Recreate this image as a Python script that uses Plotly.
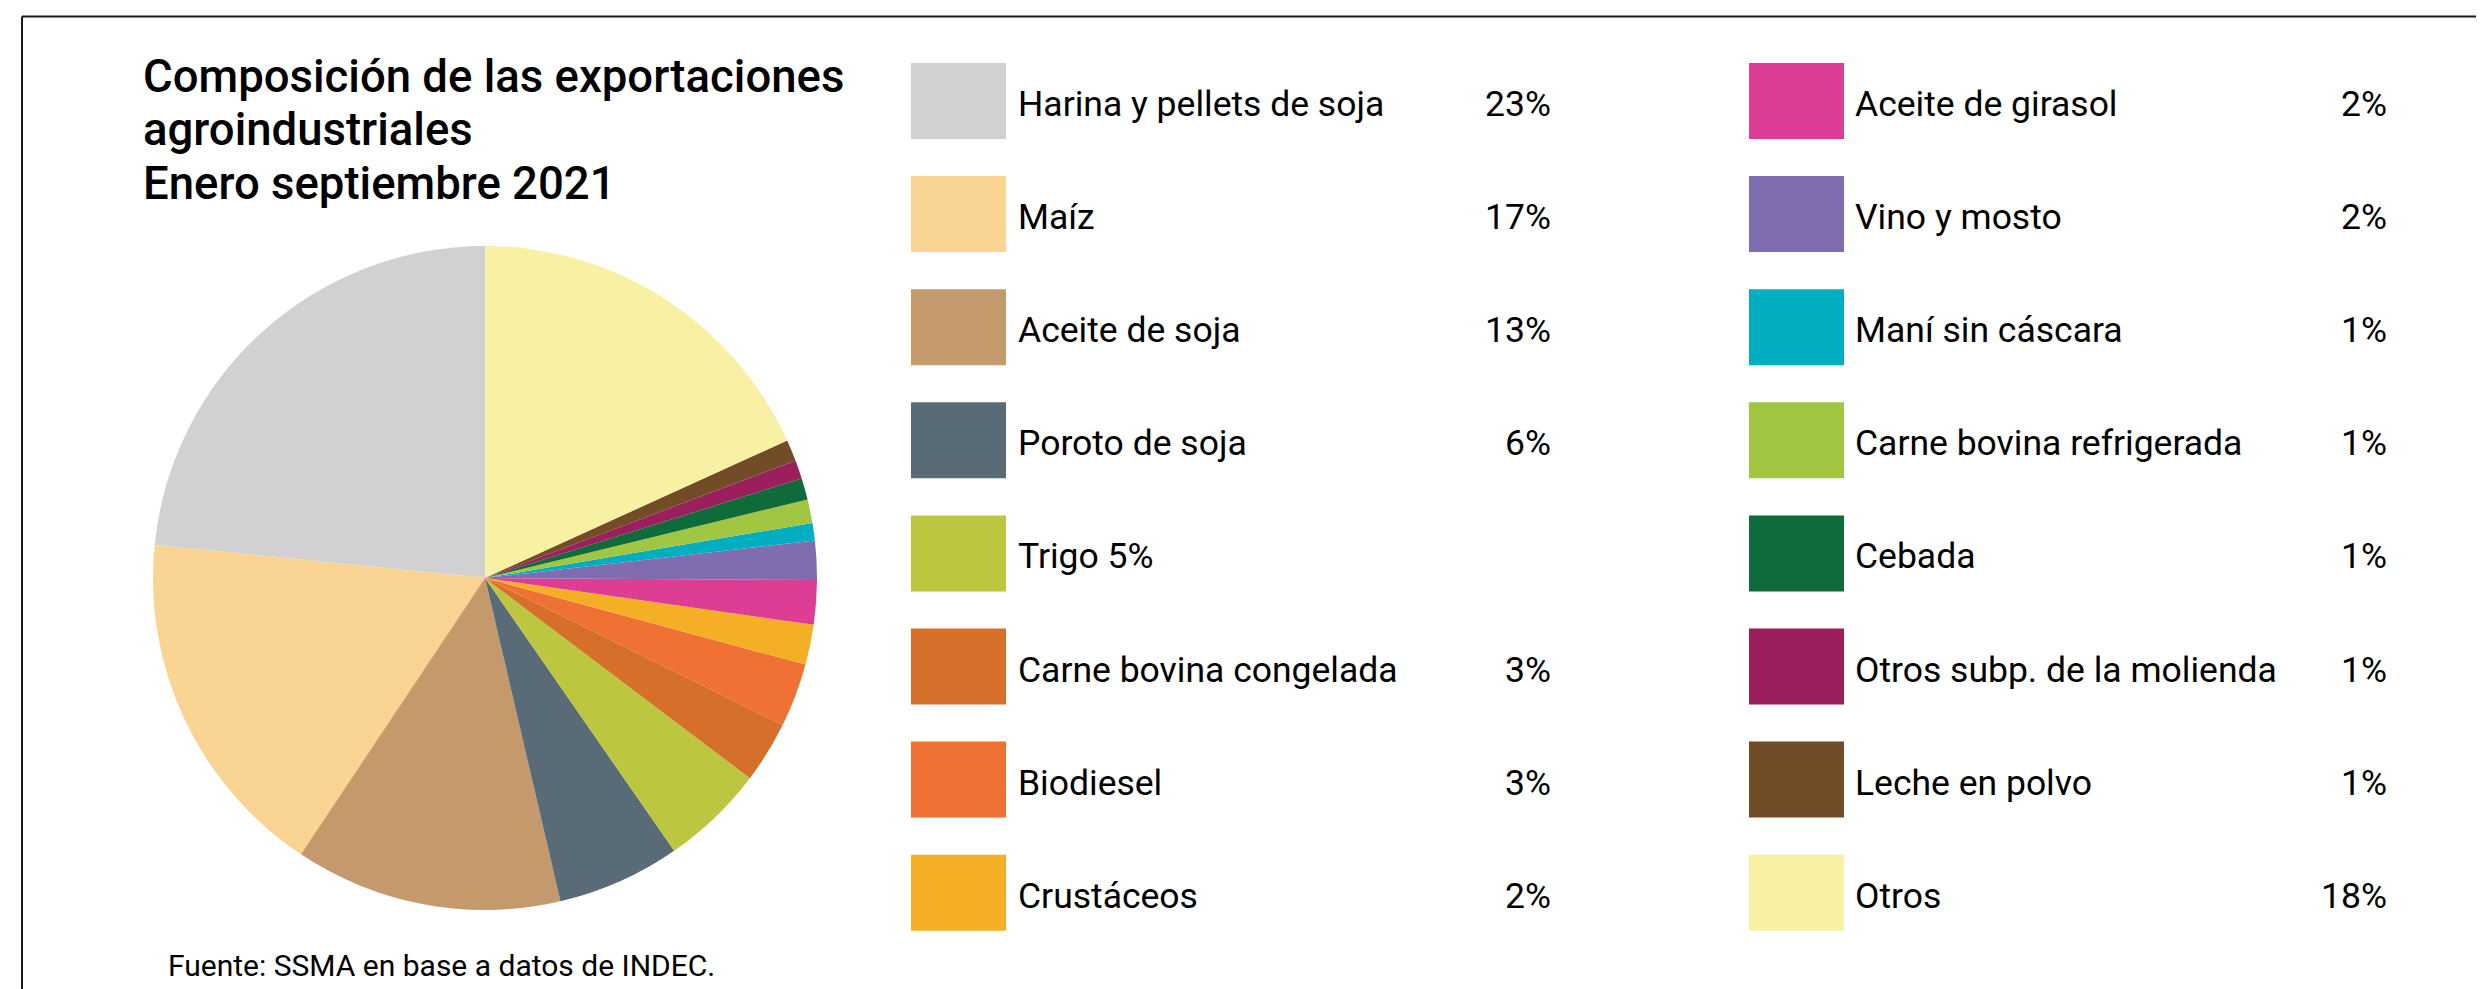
import plotly.graph_objects as go

# ---------------- data ----------------
categories = [
    "Harina y pellets de soja", "Maíz", "Aceite de soja", "Poroto de soja",
    "Trigo", "Carne bovina congelada", "Biodiesel", "Crustáceos",
    "Aceite de girasol", "Vino y mosto", "Maní sin cáscara",
    "Carne bovina refrigerada", "Cebada", "Otros subp. de la molienda",
    "Leche en polvo", "Otros",
]
shares = [23.4, 17.25, 13.0, 6.0, 5.05, 3.0, 3.1, 1.95,
          2.15, 1.9, 0.85, 1.15, 1.05, 0.9, 1.05, 18.2]
legend_labels = [
    "Harina y pellets de soja", "Maíz", "Aceite de soja", "Poroto de soja",
    "Trigo 5%", "Carne bovina congelada", "Biodiesel", "Crustáceos",
    "Aceite de girasol", "Vino y mosto", "Maní sin cáscara",
    "Carne bovina refrigerada", "Cebada", "Otros subp. de la molienda",
    "Leche en polvo", "Otros",
]
legend_pcts = ["23%", "17%", "13%", "6%", "", "3%", "3%", "2%",
               "2%", "2%", "1%", "1%", "1%", "1%", "1%", "18%"]
colors = [
    "#D1D1D3", "#F9D493", "#C49A6C", "#586B77", "#BDC63F", "#D56F29",
    "#EF7133", "#F5AF26", "#DD3D94", "#7F6DB0", "#00AFBF", "#A1C642",
    "#0F6B39", "#9C1F5D", "#724C26", "#F8F0A3",
]
title_lines = ["Composición de las exportaciones", "agroindustriales",
               "Enero septiembre 2021"]
source_text = "Fuente: SSMA en base a datos de INDEC."

# ---------------- layout constants (pixels in the 2484x989 window) ----------------
W, H = 2484, 989
OFF = 8  # default page body margin
FW, FH = W - OFF, H - OFF
FONT = "Roboto"


def px(x):
    return (x - OFF) / FW


def py(y):
    return 1 - (y - OFF) / FH


pie_cx, pie_cy, pie_r = 485, 578, 332

# first slice starts at 12 o'clock and runs counter-clockwise
first_angle = shares[0] / sum(shares) * 360

fig = go.Figure()
fig.add_trace(go.Pie(
    labels=categories,
    values=shares,
    sort=False,
    direction="counterclockwise",
    rotation=-first_angle,
    textinfo="none",
    hoverinfo="label+percent",
    marker=dict(colors=colors, line=dict(width=0)),
    domain=dict(x=[px(pie_cx - pie_r), px(pie_cx + pie_r)],
                y=[py(pie_cy + pie_r), py(pie_cy - pie_r)]),
    showlegend=False,
))

shapes = []
annotations = []

# frame (top and left edges)
shapes.append(dict(type="line", xref="paper", yref="paper",
                   x0=px(22), x1=px(W + 20), y0=py(16.5), y1=py(16.5),
                   line=dict(color="#1a1a1a", width=2)))
shapes.append(dict(type="line", xref="paper", yref="paper",
                   x0=px(22), x1=px(22), y0=py(16.5), y1=py(H + 20),
                   line=dict(color="#1a1a1a", width=2)))

# title
for i, t in enumerate(title_lines):
    annotations.append(dict(
        text=t, xref="paper", yref="paper", x=px(141), y=py(77 + i * 53),
        xanchor="left", yanchor="middle", showarrow=False,
        font=dict(family=FONT, size=45.5, color="#000000", weight=500)))

# custom legend: two columns of eight
col_swatch_x = [911, 1749]
col_label_x = [1016, 1853]
col_pct_right = [1553, 2389]
sw_w, sw_h = 95, 76
row0_top, row_pitch = 63, 113.1
text_dy = 3
n_rows = 8
for i, (lab, pct, col) in enumerate(zip(legend_labels, legend_pcts, colors)):
    c, r = divmod(i, n_rows)
    top = row0_top + r * row_pitch
    cy = top + sw_h / 2 + text_dy
    shapes.append(dict(type="rect", xref="paper", yref="paper",
                       x0=px(col_swatch_x[c]), x1=px(col_swatch_x[c] + sw_w),
                       y0=py(top + sw_h), y1=py(top),
                       fillcolor=col, line=dict(width=0)))
    annotations.append(dict(
        text=lab, xref="paper", yref="paper", x=px(col_label_x[c]), y=py(cy),
        xanchor="left", yanchor="middle", showarrow=False,
        font=dict(family=FONT, size=35.5, color="#000000")))
    if pct:
        annotations.append(dict(
            text=pct, xref="paper", yref="paper", x=px(col_pct_right[c]),
            y=py(cy), xanchor="right", yanchor="middle", showarrow=False,
            font=dict(family=FONT, size=35.5, color="#000000")))

# source
annotations.append(dict(
    text=source_text, xref="paper", yref="paper", x=px(166), y=py(965),
    xanchor="left", yanchor="middle", showarrow=False,
    font=dict(family=FONT, size=30, color="#000000")))

fig.update_layout(
    width=FW, height=FH,
    margin=dict(l=0, r=0, t=0, b=0),
    paper_bgcolor="#FFFFFF",
    plot_bgcolor="#FFFFFF",
    shapes=shapes,
    annotations=annotations,
    showlegend=False,
)

fig.write_html("out.html", config={"displayModeBar": False})
